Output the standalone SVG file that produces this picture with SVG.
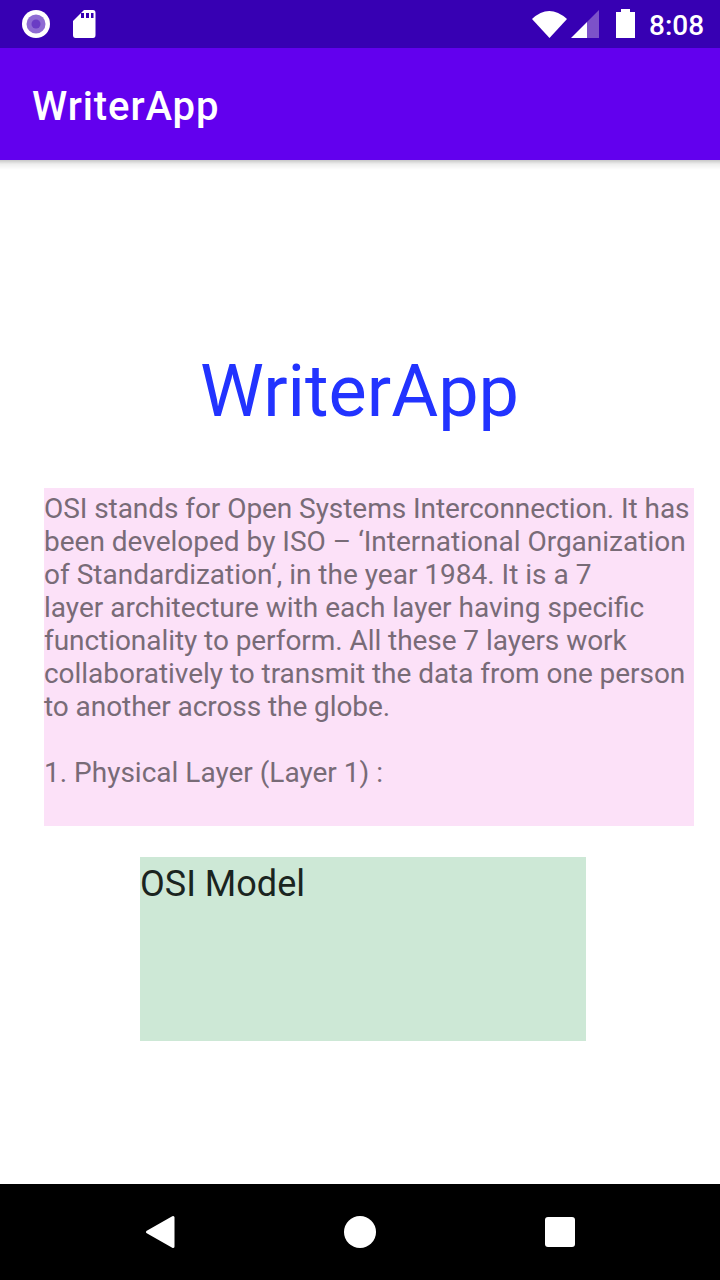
<svg xmlns="http://www.w3.org/2000/svg" width="720" height="1280" viewBox="0 0 720 1280">
<defs>
<linearGradient id="sh" x1="0" y1="0" x2="0" y2="1"><stop offset="0" stop-color="#000" stop-opacity="0.22"/><stop offset="0.4" stop-color="#000" stop-opacity="0.07"/><stop offset="1" stop-color="#000" stop-opacity="0"/></linearGradient>
</defs>
<style>
text{font-family:Roboto,"Liberation Sans",sans-serif}
.b{font-size:28px;fill:#786b77}
.w{fill:#fff}
</style>
<rect width="720" height="1280" fill="#fff"/>
<g id="status-bar">
<rect width="720" height="48" fill="#3700b3"/>
<circle cx="36" cy="24" r="14" fill="#fff"/>
<circle cx="36" cy="24" r="9.500" fill="#8e6bd3"/>
<circle cx="36" cy="24" r="4.500" fill="#6a3cc4"/>
<path class="w" d="M84 10H93Q95.500 10 95.500 13V35Q95.500 38 93 38H75.500Q73 38 73 35V21Z"/>
<path fill="#3700b3" d="M81 13h3v5h-3zM86 13h3v5h-3zM91 13h2.500v5h-2.500z"/>
<path class="w" d="M532 19Q549 3 567 19L549.500 38Z"/>
<path fill="#7c52c9" d="M599 10V38H587V22Z"/>
<path class="w" d="M587 22V38H571Z"/>
<path class="w" d="M616 12H621V9H630V12H635V38H616Z"/>
<text x="649" y="35" font-size="28" font-weight="500" class="w">8:08</text>
</g>
<g id="app-bar">
<rect y="160" width="720" height="10" fill="url(#sh)"/>
<rect y="48" width="720" height="112" fill="#6200ee"/>
<text x="32" y="120" font-size="40" font-weight="500" letter-spacing="0.9" class="w">WriterApp</text>
</g>
<g id="title">
<text x="359.500" y="416" font-size="72" text-anchor="middle" fill="#2233ff">WriterApp</text>
</g>
<g id="body-text">
<rect x="44" y="488" width="650" height="338" fill="#fce1f8"/>
<text x="44" y="518" class="b" letter-spacing="-0.06">OSI stands for Open Systems Interconnection. It has</text>
<text x="44" y="551" class="b">been developed by ISO – ‘International Organization</text>
<text x="44" y="584" class="b">of Standardization‘, in the year 1984. It is a 7</text>
<text x="44" y="617" class="b">layer architecture with each layer having specific</text>
<text x="44" y="650" class="b" letter-spacing="-0.06">functionality to perform. All these 7 layers work</text>
<text x="44" y="683" class="b" letter-spacing="-0.04">collaboratively to transmit the data from one person</text>
<text x="44" y="716" class="b" letter-spacing="-0.07">to another across the globe.</text>
<text x="44" y="782" class="b">1. Physical Layer (Layer 1) :</text>
</g>
<g id="osi-model">
<rect x="140" y="857" width="446" height="184" fill="#cde8d6"/>
<text x="140" y="896" font-size="36" fill="#1a2420">OSI Model</text>
</g>
<g id="nav-bar">
<rect y="1184" width="720" height="96" fill="#000"/>
<path class="w" stroke="#fff" stroke-width="3" stroke-linejoin="round" d="M147.500 1232L173 1217.500V1246.500Z"/>
<circle cx="360" cy="1232" r="16" class="w"/>
<rect x="545" y="1217" width="30" height="30" rx="3" class="w"/>
</g>
</svg>
